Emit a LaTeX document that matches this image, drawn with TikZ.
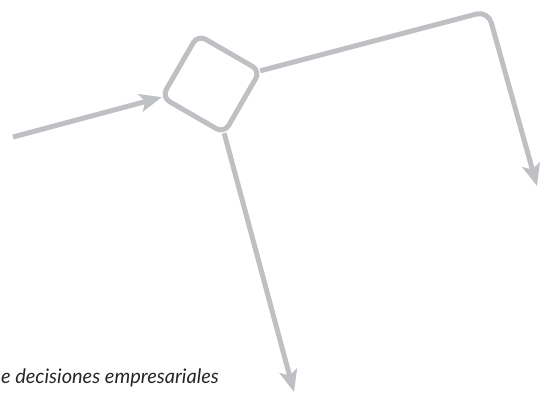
\documentclass[tikz,border=0pt]{standalone}
\usepackage{fontspec}
\setmainfont{Lato}
\usetikzlibrary{arrows.meta}
\definecolor{flowgray}{RGB}{190,192,196}

\begin{document}
\begin{tikzpicture}[x=1pt, y=-1pt,
    flow/.style={draw=flowgray, line width=5pt,
      -{Stealth[length=22pt, width=18pt, inset=5pt]}},
    box/.style={draw=flowgray, line width=5pt, rounded corners=9pt,
      minimum size=72pt, inner sep=0pt, outer sep=0pt}]
  \useasboundingbox (0,0) rectangle (554,397);
  \node (box) at (211,84) [box, rotate=-30] {};
  \coordinate (src) at (13,137);
  \coordinate (bend) at (488,11);
  \coordinate (outR) at (537,186);
  \coordinate (outB) at (294,392);
  \node (caption) at (219,383) [anchor=base east, inner sep=0pt,
    font=\fontsize{20}{24}\selectfont\itshape, text=black!85] {e decisiones empresariales};
  \draw[flow] (src) -- (box.south west);
  \draw[flow, rounded corners=12pt] (box.north east) -- (bend) -- (outR);
  \draw[flow] (box.south east) -- (outB);
\end{tikzpicture}
\end{document}
